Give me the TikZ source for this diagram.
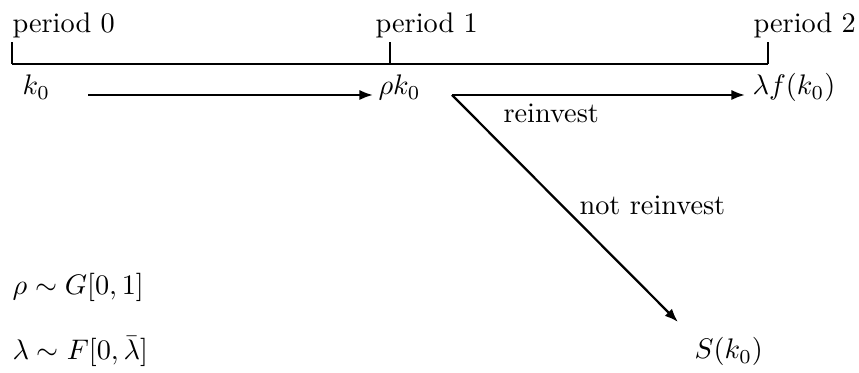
\documentclass[tikz,border=0pt]{standalone}
\usetikzlibrary{calc,arrows.meta}
\begin{document}
\begin{tikzpicture}[x=0.3534pt,y=-0.3534pt,
  txt/.style={inner sep=0pt,anchor=base west},
  tl/.style={line width=0.8pt},
  arr/.style={line width=0.8pt,-{Latex[length=4.8pt,width=3.6pt]}}]
\useasboundingbox (0,0) rectangle (859,373);
% timeline
\coordinate (t0) at (12,64);
\coordinate (t1) at (390,64);
\coordinate (t2) at (768,64);
\draw[tl] (t0) -- (t2);
\draw[tl] (t0) -- ++(0,-22);
\draw[tl] (t1) -- ++(0,-22);
\draw[tl] (t2) -- ++(0,-22);
\node[txt] (p0) at (12,33) {period 0};
\node[txt] (p1) at (375,33) {period 1};
\node[txt] (p2) at (753,33) {period 2};
% quantities
\node[txt] (k0) at (22,95) {$k_0$};
\node[txt] (rk) at (378,95) {$\rho k_0$};
\node[txt] (lf) at (752,95) {$\lambda f(k_0)$};
\node[txt] (S) at (694,359) {$S(k_0)$};
\coordinate (br) at (452,95);
\draw[arr] (88,95) coordinate (a0) -- ($(rk.base west)+(-5,0)$);
\draw[arr] (br) -- ($(lf.base west)+(-7,0)$);
\draw[arr] (br) -- ($(S.base west)+(-16,-37)$);
\node[txt] (re) at (503,123) {reinvest};
\node[txt] (nre) at (579,215) {not reinvest};
% distributions
\node[txt] (g) at (12,295) {$\rho\sim G[0,1]$};
\node[txt] (f) at (12,360) {$\lambda\sim F[0,\bar\lambda]$};
\end{tikzpicture}
\end{document}
